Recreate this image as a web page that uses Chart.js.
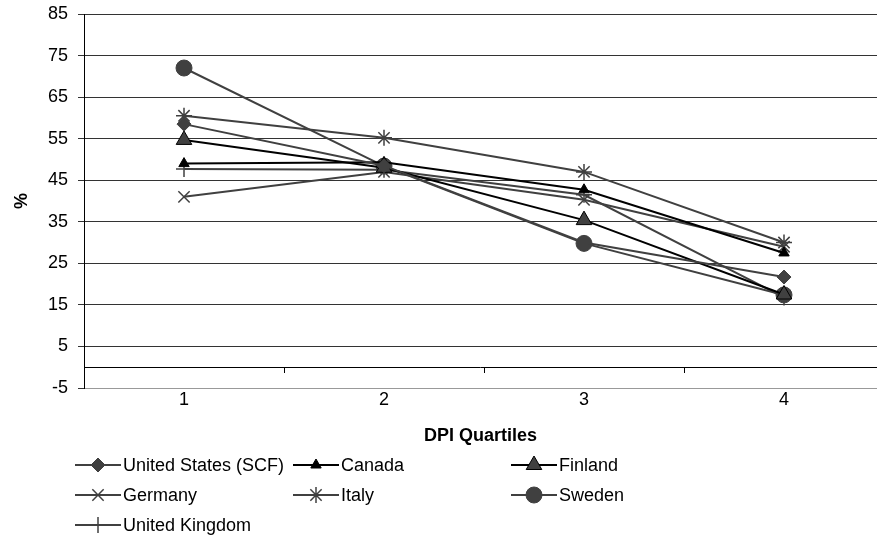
<!DOCTYPE html>
<html lang="en">

<head>
    <meta charset="UTF-8">
    <title>DPI Quartiles</title>
    <script src="https://cdn.jsdelivr.net/npm/chart.js"></script>
    <style>
        html, body { margin: 0; padding: 0; overflow: hidden; background: #fff; }
        .grafico { width: 877px; height: 539px; }
        canvas { display: block; }
    </style>
</head>

<body>
    <div class="grafico">
        <canvas id="graficoQuartis"></canvas>
    </div>
</body>
<script>
    // valores
    var quartis = [1, 2, 3, 4]
    var ticksY = [-5, 5, 15, 25, 35, 45, 55, 65, 75, 85]

    var paises = ['United States (SCF)', 'Canada', 'Finland', 'Germany', 'Italy', 'Sweden', 'United Kingdom']
    var unitedStates = [58.5, 48.5, 30, 21.7]
    var canada = [49, 49.3, 42.7, 27.5]
    var finland = [54.7, 48, 35.4, 17.5]
    var germany = [41, 47, 40.3, 29]
    var italy = [60.5, 55.2, 47, 30]
    var sweden = [72, 48.4, 29.8, 17.4]
    var unitedKingdom = [47.7, 47.5, 41.5, 16.8]

    var fonte = 'Arial, "Liberation Sans", sans-serif'

    function pontos(valores) {
        return valores.map((v, i) => ({ x: quartis[i], y: v }))
    }

    function serie(nome, valores, cor, corLinha, estilo, raio, extra) {
        return Object.assign({
            label: nome,
            data: pontos(valores),
            borderColor: corLinha,
            backgroundColor: cor,
            pointBackgroundColor: cor,
            pointBorderColor: cor,
            pointStyle: estilo,
            pointRadius: raio,
            pointBorderWidth: 1,
            borderWidth: 2,
            tension: 0
        }, extra || {})
    }

    // linha do zero (o eixo das categorias cruza em 0)
    const linhaZero = {
        id: 'linhaZero',
        beforeDatasetsDraw(chart) {
            const sy = chart.scales.y
            const y0 = Math.round(sy.getPixelForValue(0)) + 0.5
            const c = chart.ctx
            c.save()
            c.strokeStyle = '#000'
            c.lineWidth = 1
            c.beginPath()
            c.moveTo(chart.chartArea.left, y0)
            c.lineTo(chart.chartArea.right, y0)
            c.stroke()
            c.restore()
        }
    }

    // marcas entre as categorias, sobre a linha do zero, e a legenda em 3 colunas
    const extras = {
        id: 'extras',
        afterDraw(chart) {
            const ctx = chart.ctx
            const sx = chart.scales.x
            const sy = chart.scales.y
            const y0 = Math.round(sy.getPixelForValue(0))
            ctx.save()
            ctx.strokeStyle = '#000'
            ctx.lineWidth = 1
            for (var i = 0; i < quartis.length - 1; i++) {
                const px = Math.round(sx.getPixelForValue(quartis[i] + 0.5)) + 0.5
                ctx.beginPath()
                ctx.moveTo(px, y0)
                ctx.lineTo(px, y0 + 6)
                ctx.stroke()
            }

            const esquerda = 75, topo = 465, linhaH = 30, compLinha = 46, colW = 218
            ctx.font = '18px ' + fonte
            ctx.textBaseline = 'middle'
            ctx.textAlign = 'left'
            chart.data.datasets.forEach((ds, k) => {
                const x0 = esquerda + (k % 3) * colW
                const y = topo + Math.floor(k / 3) * linhaH
                ctx.strokeStyle = ds.borderColor
                ctx.lineWidth = 2
                ctx.beginPath()
                ctx.moveTo(x0, y)
                ctx.lineTo(x0 + compLinha, y)
                ctx.stroke()
                ctx.fillStyle = ds.pointBackgroundColor
                ctx.strokeStyle = ds.pointBorderColor
                ctx.lineWidth = ds.pointBorderWidth
                Chart.helpers.drawPoint(ctx, {
                    pointStyle: ds.pointStyle,
                    radius: ds.pointRadius,
                    rotation: 0,
                    borderWidth: ds.pointBorderWidth
                }, x0 + compLinha / 2, y)
                ctx.fillStyle = '#000'
                ctx.fillText(ds.label, x0 + compLinha + 2, y + 1)
            })
            ctx.restore()
        }
    }

    const ctx = document.getElementById('graficoQuartis').getContext('2d')
    const graficoQuartis = new Chart(ctx, {
        type: 'line',
        data: {
            datasets: [
                serie(paises[0], unitedStates, '#404040', '#404040', 'rectRot', 7),
                serie(paises[1], canada, '#000', '#000', 'triangle', 6),
                serie(paises[2], finland, '#404040', '#000', 'triangle', 9, { pointBorderColor: '#000' }),
                serie(paises[3], germany, '#404040', '#404040', 'crossRot', 8, { pointBorderWidth: 1.5 }),
                serie(paises[4], italy, '#404040', '#404040', 'star', 8, { pointBorderWidth: 1.5 }),
                serie(paises[5], sweden, '#404040', '#404040', 'circle', 8),
                serie(paises[6], unitedKingdom, '#404040', '#404040', 'cross', 8, { pointBorderWidth: 1.5 })
            ]
        },
        options: {
            responsive: true,
            maintainAspectRatio: false,
            animation: false,
            layout: { autoPadding: false, padding: { top: 14, right: 0, bottom: 89, left: 0 } },
            plugins: {
                legend: { display: false },
                tooltip: { enabled: false }
            },
            scales: {
                x: {
                    type: 'linear',
                    min: 0.5,
                    max: 4.465,
                    afterBuildTicks: (s) => { s.ticks = quartis.map(v => ({ value: v })) },
                    afterFit: (s) => { s.height = 62; s.paddingLeft = 0; s.paddingRight = 0 },
                    grid: { display: false, drawTicks: false },
                    border: { display: false },
                    ticks: {
                        color: '#000',
                        padding: 1,
                        font: { family: fonte, size: 18 },
                        maxRotation: 0
                    },
                    title: {
                        display: true,
                        text: 'DPI Quartiles',
                        color: '#000',
                        padding: { top: 0, bottom: 3 },
                        font: { family: fonte, size: 18, weight: 'bold' }
                    }
                },
                y: {
                    min: -5,
                    max: 85,
                    afterBuildTicks: (s) => { s.ticks = ticksY.map(v => ({ value: v })) },
                    afterFit: (s) => { s.width = 84; s.paddingTop = 0; s.paddingBottom = 0 },
                    grid: {
                        color: (c) => c.tick && c.tick.value === -5 ? '#999' : '#333',
                        lineWidth: 1,
                        tickLength: 6,
                        tickColor: '#333'
                    },
                    border: { display: true, color: '#000', width: 1 },
                    ticks: {
                        color: '#000',
                        padding: 10,
                        font: { family: fonte, size: 18 }
                    },
                    title: {
                        display: true,
                        text: '%',
                        color: '#000',
                        padding: { top: 11, bottom: 0 },
                        font: { family: fonte, size: 18, weight: 'bold' }
                    }
                }
            }
        },
        plugins: [linhaZero, extras]
    });

</script>

</html>
